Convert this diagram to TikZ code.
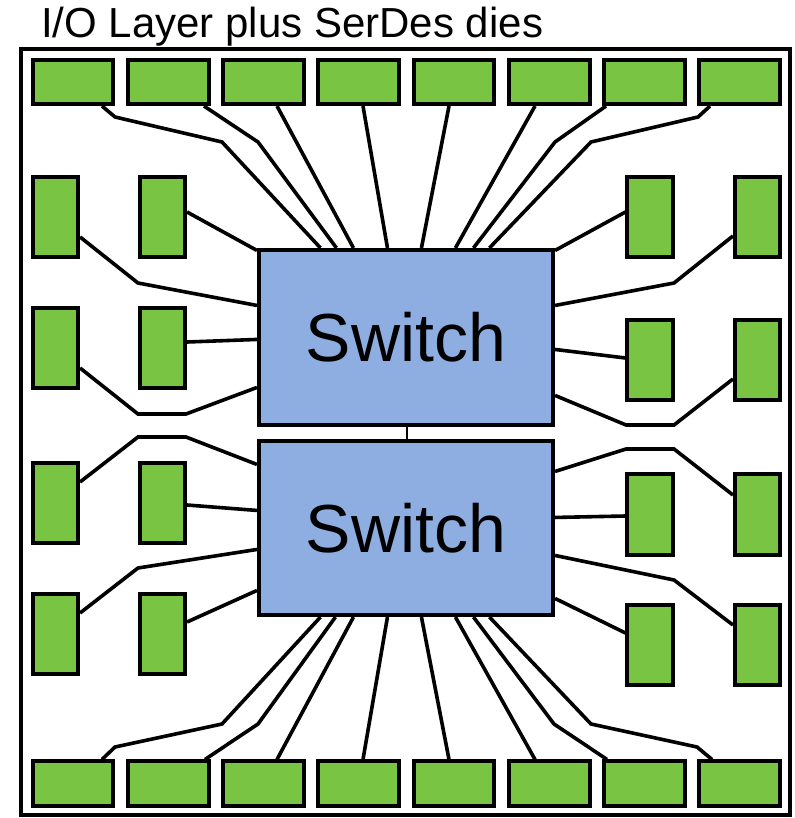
\documentclass[tikz,border=0pt]{standalone}
\usepackage{fontspec}
\setmainfont{Liberation Sans}
\usetikzlibrary{calc}
\definecolor{diegreen}{RGB}{122,196,68}
\definecolor{swblue}{RGB}{142,173,225}
\begin{document}
\begin{tikzpicture}[x=1pt,y=-1pt,
  hbox/.style={draw, line width=3.6pt, fill=diegreen, inner sep=0pt, minimum width=80.5pt, minimum height=44.5pt},
  vbox/.style={draw, line width=3.6pt, fill=diegreen, inner sep=0pt, minimum width=45.5pt, minimum height=80.5pt},
  swbox/.style={draw, line width=3.6pt, fill=swblue, inner sep=0pt, minimum width=294.5pt, minimum height=175.5pt, font=\fontsize{68}{68}\selectfont},
  wire/.style={line width=3.6pt}]
\useasboundingbox (0,0) rectangle (794,818);
\fill[white] (0,0) rectangle (794,818);
% frame and title
\draw[line width=3.6pt] (21,49) rectangle (790,815.2);
\node[anchor=base west, inner sep=0pt, font=\fontsize{42}{42}\selectfont] (title) at (41,37.5) {I/O Layer plus SerDes dies};
% switches
\node[swbox] (sw1) at (406,337.5) {Switch};
\node[swbox, minimum height=174.5pt] (sw2) at (406,528) {Switch};
% top and bottom rows
\foreach \i/\x in {1/73,2/168.5,3/263.5,4/358.5,5/454,6/549.5,7/644.5,8/739.5}{
  \node[hbox] (t\i) at (\x,82) {};
  \node[hbox] (b\i) at (\x,783.5) {};
}
% side columns
\foreach \i/\y in {1/217,2/348,3/503,4/634}{
  \node[vbox] (lo\i) at (55.5,\y) {};
  \node[vbox] (li\i) at (162.5,\y) {};
}
\foreach \i/\y in {1/217,2/360,3/514.5,4/645}{
  \node[vbox] (ri\i) at (650,\y) {};
  \node[vbox] (ro\i) at (757.5,\y) {};
}
% link between switches
\draw[line width=1.5pt] ($(sw1.south)+(1,0)$) -- ($(sw2.north)+(1,0)$);
% top row wires
\draw[wire] ($(t1.south)+(29,0)$) -- (115,117) -- (222,142) -- ($(sw1.north west)+(63.5,0)$);
\draw[wire] ($(t2.south)+(35.5,0)$) -- (258,142) -- ($(sw1.north west)+(79.5,0)$);
\draw[wire] ($(t3.south)+(13.5,0)$) -- ($(sw1.north west)+(96.5,0)$);
\draw[wire] ($(t4.south)+(4.5,0)$) -- ($(sw1.north west)+(130.5,0)$);
\draw[wire] ($(t5.south)+(-5,0)$) -- ($(sw1.north west)+(164.5,0)$);
\draw[wire] ($(t6.south)+(-14.5,0)$) -- ($(sw1.north west)+(198.5,0)$);
\draw[wire] ($(t7.south)+(-38.5,0)$) -- (555,142) -- ($(sw1.north west)+(216.5,0)$);
\draw[wire] ($(t8.south)+(-29.5,0)$) -- (698,117) -- (591,142) -- ($(sw1.north west)+(232.5,0)$);
% bottom row wires
\draw[wire] ($(b1.north)+(29,0)$) -- (115,747) -- (222,724) -- ($(sw2.south west)+(63.5,0)$);
\draw[wire] ($(b2.north)+(36.5,0)$) -- (258,724) -- ($(sw2.south west)+(78.5,0)$);
\draw[wire] ($(b3.north)+(13.5,0)$) -- ($(sw2.south west)+(96.5,0)$);
\draw[wire] ($(b4.north)+(4.5,0)$) -- ($(sw2.south west)+(130.5,0)$);
\draw[wire] ($(b5.north)+(-5,0)$) -- ($(sw2.south west)+(164.5,0)$);
\draw[wire] ($(b6.north)+(-14.5,0)$) -- ($(sw2.south west)+(198.5,0)$);
\draw[wire] ($(b7.north)+(-37.5,0)$) -- (554,724) -- ($(sw2.south west)+(216.5,0)$);
\draw[wire] ($(b8.north)+(-27.5,0)$) -- (697,747) -- (591,724) -- ($(sw2.south west)+(232.5,0)$);
% left side, top switch
\draw[wire] ($(li1.east)+(0,-5)$) -- ($(sw1.north west)+(0,2.5)$);
\draw[wire] ($(lo1.east)+(0,20)$) -- (138,283) -- ($(sw1.north west)+(0,57.5)$);
\draw[wire] ($(li2.east)+(0,-6)$) -- ($(sw1.north west)+(0,91.5)$);
\draw[wire] ($(lo2.east)+(0,20)$) -- (138,414) -- (186,414) -- ($(sw1.north west)+(0,139.5)$);
% left side, bottom switch
\draw[wire] ($(lo3.east)+(0,-21)$) -- (138,437) -- (186,437) -- ($(sw2.north west)+(0,25.5)$);
\draw[wire] ($(li3.east)+(0,2)$) -- ($(sw2.north west)+(0,71.5)$);
\draw[wire] ($(lo4.east)+(0,-21)$) -- (138,568) -- ($(sw2.north west)+(0,110.5)$);
\draw[wire] ($(li4.east)+(0,-12)$) -- ($(sw2.north west)+(0,151.5)$);
% right side, top switch
\draw[wire] ($(sw1.north east)+(0,2.5)$) -- ($(ri1.west)+(0,-5)$);
\draw[wire] ($(sw1.north east)+(0,57.5)$) -- (674,283) -- ($(ro1.west)+(0,19)$);
\draw[wire] ($(sw1.north east)+(0,101.5)$) -- ($(ri2.west)+(0,-2)$);
\draw[wire] ($(sw1.north east)+(0,147.5)$) -- (626,425) -- (674,425) -- ($(ro2.west)+(0,19)$);
% right side, bottom switch
\draw[wire] ($(sw2.north east)+(0,32.5)$) -- (626,449) -- (674,449) -- ($(ro3.west)+(0,-19.5)$);
\draw[wire] ($(sw2.north east)+(0,78.5)$) -- ($(ri3.west)+(0,1.5)$);
\draw[wire] ($(sw2.north east)+(0,116.5)$) -- (674,580) -- ($(ro4.west)+(0,-20)$);
\draw[wire] ($(sw2.north east)+(0,159.5)$) -- ($(ri4.west)+(0,-12)$);
\end{tikzpicture}
\end{document}
